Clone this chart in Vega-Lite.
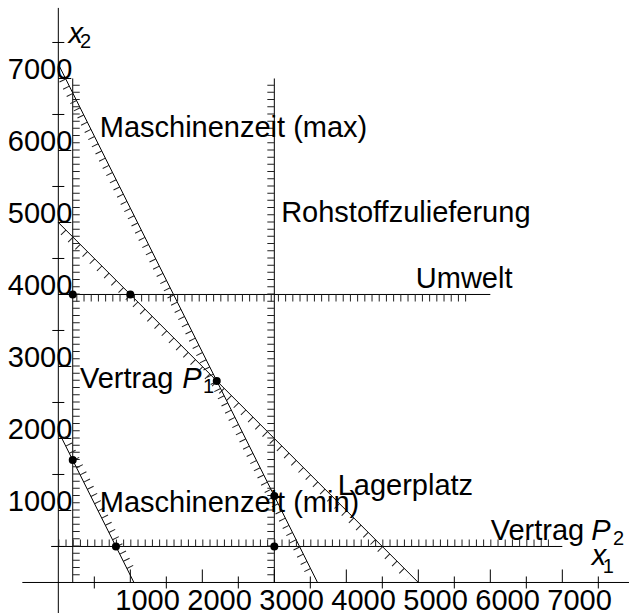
{
  "$schema": "https://vega.github.io/schema/vega-lite/v6.json",
  "width": 629,
  "height": 613,
  "padding": 0,
  "autosize": {"type": "none"},
  "background": "white",
  "config": {"view": {"stroke": null}},
  "datasets": {
    "axes": [
      {"x": -500, "y": 0, "x2": 7926, "y2": 0},
      {"x": 0, "y": -424, "x2": 0, "y2": 7980}
    ],
    "xmajor": [{"x": 1000, "y": 0}, {"x": 2000, "y": 0}, {"x": 3000, "y": 0}, {"x": 4000, "y": 0}, {"x": 5000, "y": 0}, {"x": 6000, "y": 0}, {"x": 7000, "y": 0}],
    "xminor": [{"x": 500, "y": 0}, {"x": 1500, "y": 0}, {"x": 2500, "y": 0}, {"x": 3500, "y": 0}, {"x": 4500, "y": 0}, {"x": 5500, "y": 0}, {"x": 6500, "y": 0}, {"x": 7500, "y": 0}],
    "ymajor": [{"x": 0, "y": 1000}, {"x": 0, "y": 2000}, {"x": 0, "y": 3000}, {"x": 0, "y": 4000}, {"x": 0, "y": 5000}, {"x": 0, "y": 6000}, {"x": 0, "y": 7000}],
    "yminor": [{"x": 0, "y": 500}, {"x": 0, "y": 1500}, {"x": 0, "y": 2500}, {"x": 0, "y": 3500}, {"x": 0, "y": 4500}, {"x": 0, "y": 5500}, {"x": 0, "y": 6500}, {"x": 0, "y": 7500}],
    "lines": [
      {"id": "Vertrag P1", "x": 200, "y": 0, "x2": 200, "y2": 7000},
      {"id": "Rohstoffzulieferung", "x": 3000, "y": 0, "x2": 3000, "y2": 7000},
      {"id": "Umwelt", "x": 0, "y": 4000, "x2": 6000, "y2": 4000},
      {"id": "Vertrag P2", "x": -100, "y": 500, "x2": 7000, "y2": 500},
      {"id": "Maschinenzeit (max)", "x": 0, "y": 7200, "x2": 3600, "y2": 0},
      {"id": "Lagerplatz", "x": 0, "y": 5000, "x2": 5000, "y2": 0},
      {"id": "Maschinenzeit (min)", "x": 0, "y": 2100, "x2": 1050, "y2": 0}
    ],
    "hatch": [
      {"id": "Vertrag P1", "x": 200, "y": 100, "x2": 200, "y2": 7000},
      {"id": "Rohstoffzulieferung", "x": 3000, "y": 100, "x2": 3000, "y2": 7000},
      {"id": "Umwelt", "x": 250, "y": 4000, "x2": 5750, "y2": 4000},
      {"id": "Vertrag P2", "x": 0, "y": 500, "x2": 6900, "y2": 500},
      {"id": "Maschinenzeit (max)", "x": 100, "y": 7000, "x2": 3550, "y2": 100},
      {"id": "Lagerplatz", "x": 100, "y": 4900, "x2": 4900, "y2": 100},
      {"id": "Maschinenzeit (min)", "x": 50, "y": 2000, "x2": 1000, "y2": 100}
    ],
    "points": [
      {"x": 200, "y": 4000},
      {"x": 1000, "y": 4000},
      {"x": 2200, "y": 2800},
      {"x": 200, "y": 1700},
      {"x": 800, "y": 500},
      {"x": 3000, "y": 500},
      {"x": 3000, "y": 1200}
    ],
    "labels": [
      {"t": "Maschinenzeit (max)", "x": 575, "y": 6190},
      {"t": "Rohstoffzulieferung", "x": 3095, "y": 5000},
      {"t": "Umwelt", "x": 4965, "y": 4085},
      {"t": "Vertrag", "x": 300, "y": 2700},
      {"t": "Maschinenzeit (min)", "x": 575, "y": 985},
      {"t": "Lagerplatz", "x": 3880, "y": 1215},
      {"t": "Vertrag", "x": 6005, "y": 590}
    ],
    "italic": [
      {"t": "P", "x": 1720, "y": 2700},
      {"t": "P", "x": 7403, "y": 590},
      {"t": "x", "x": 140, "y": 7490},
      {"t": "x", "x": 7408, "y": 243}
    ],
    "sub": [
      {"t": "1", "x": 2010, "y": 2630},
      {"t": "2", "x": 7704, "y": 521},
      {"t": "2", "x": 300, "y": 7420},
      {"t": "1", "x": 7560, "y": 128}
    ]
  },
  "encoding": {
    "x": {"field": "x", "type": "quantitative", "scale": {"domain": [-810, 7926], "nice": false, "zero": false}, "axis": null},
    "y": {"field": "y", "type": "quantitative", "scale": {"domain": [-424, 8090], "nice": false, "zero": false}, "axis": null}
  },
  "layer": [
    {
      "data": {"name": "axes"},
      "mark": {"type": "rule", "color": "black", "strokeWidth": 1},
      "encoding": {"x2": {"field": "x2"}, "y2": {"field": "y2"}}
    },
    {
      "data": {"name": "xmajor"},
      "mark": {"type": "rule", "color": "black", "strokeWidth": 1, "y2Offset": -13},
      "encoding": {"y2": {"field": "y"}}
    },
    {
      "data": {"name": "xminor"},
      "mark": {"type": "rule", "color": "black", "strokeWidth": 1, "yOffset": 6, "y2Offset": -6},
      "encoding": {"y2": {"field": "y"}}
    },
    {
      "data": {"name": "ymajor"},
      "mark": {"type": "rule", "color": "black", "strokeWidth": 1, "x2Offset": 13},
      "encoding": {"x2": {"field": "x"}}
    },
    {
      "data": {"name": "yminor"},
      "mark": {"type": "rule", "color": "black", "strokeWidth": 1, "xOffset": -6, "x2Offset": 6},
      "encoding": {"x2": {"field": "x"}}
    },
    {
      "data": {"name": "xmajor"},
      "mark": {"type": "text", "font": "Liberation Sans", "fontSize": 29, "color": "black", "align": "left", "baseline": "alphabetic", "dx": -15, "dy": 28},
      "encoding": {"text": {"field": "x", "type": "nominal"}}
    },
    {
      "data": {"name": "ymajor"},
      "mark": {"type": "text", "font": "Liberation Sans", "fontSize": 29, "color": "black", "align": "right", "baseline": "alphabetic", "dx": 14, "dy": 1},
      "encoding": {"text": {"field": "y", "type": "nominal"}}
    },
    {
      "data": {"name": "lines"},
      "mark": {"type": "rule", "color": "black", "strokeWidth": 1},
      "encoding": {"x2": {"field": "x2"}, "y2": {"field": "y2"}}
    },
    {
      "data": {"name": "hatch"},
      "transform": [{"filter": "datum.id == 'Vertrag P1'"}],
      "mark": {"type": "rule", "color": "#222", "strokeWidth": 7, "strokeDash": [1, 6.2], "strokeCap": "butt", "xOffset": 3.5, "x2Offset": 3.5},
      "encoding": {"x2": {"field": "x2"}, "y2": {"field": "y2"}}
    },
    {
      "data": {"name": "hatch"},
      "transform": [{"filter": "datum.id == 'Rohstoffzulieferung'"}],
      "mark": {"type": "rule", "color": "#222", "strokeWidth": 7, "strokeDash": [1, 6.2], "strokeCap": "butt", "xOffset": -3.5, "x2Offset": -3.5},
      "encoding": {"x2": {"field": "x2"}, "y2": {"field": "y2"}}
    },
    {
      "data": {"name": "hatch"},
      "transform": [{"filter": "datum.id == 'Umwelt'"}],
      "mark": {"type": "rule", "color": "#222", "strokeWidth": 7, "strokeDash": [1, 6.2], "strokeCap": "butt", "yOffset": 3.5, "y2Offset": 3.5},
      "encoding": {"x2": {"field": "x2"}, "y2": {"field": "y2"}}
    },
    {
      "data": {"name": "hatch"},
      "transform": [{"filter": "datum.id == 'Vertrag P2'"}],
      "mark": {"type": "rule", "color": "#222", "strokeWidth": 7, "strokeDash": [1, 6.2], "strokeCap": "butt", "yOffset": -3.5, "y2Offset": -3.5},
      "encoding": {"x2": {"field": "x2"}, "y2": {"field": "y2"}}
    },
    {
      "data": {"name": "hatch"},
      "transform": [{"filter": "datum.id == 'Maschinenzeit (max)'"}],
      "mark": {"type": "rule", "color": "#222", "strokeWidth": 7, "strokeDash": [1, 7.05], "strokeCap": "butt", "xOffset": -3.13, "x2Offset": -3.13, "yOffset": 1.57, "y2Offset": 1.57},
      "encoding": {"x2": {"field": "x2"}, "y2": {"field": "y2"}}
    },
    {
      "data": {"name": "hatch"},
      "transform": [{"filter": "datum.id == 'Lagerplatz'"}],
      "mark": {"type": "rule", "color": "#222", "strokeWidth": 7, "strokeDash": [1, 9.18], "strokeCap": "butt", "xOffset": -2.47, "x2Offset": -2.47, "yOffset": 2.47, "y2Offset": 2.47},
      "encoding": {"x2": {"field": "x2"}, "y2": {"field": "y2"}}
    },
    {
      "data": {"name": "hatch"},
      "transform": [{"filter": "datum.id == 'Maschinenzeit (min)'"}],
      "mark": {"type": "rule", "color": "#222", "strokeWidth": 7, "strokeDash": [1, 7.05], "strokeCap": "butt", "xOffset": 3.13, "x2Offset": 3.13, "yOffset": -1.57, "y2Offset": -1.57},
      "encoding": {"x2": {"field": "x2"}, "y2": {"field": "y2"}}
    },
    {
      "data": {"name": "points"},
      "mark": {"type": "circle", "size": 64, "color": "black", "opacity": 1}
    },
    {
      "data": {"name": "labels"},
      "mark": {"type": "text", "font": "Liberation Sans", "fontSize": 29, "color": "black", "align": "left", "baseline": "alphabetic"},
      "encoding": {"text": {"field": "t"}}
    },
    {
      "data": {"name": "italic"},
      "mark": {"type": "text", "font": "Liberation Sans", "fontSize": 29, "fontStyle": "italic", "color": "black", "align": "left", "baseline": "alphabetic"},
      "encoding": {"text": {"field": "t"}}
    },
    {
      "data": {"name": "sub"},
      "mark": {"type": "text", "font": "Liberation Sans", "fontSize": 20, "color": "black", "align": "left", "baseline": "alphabetic"},
      "encoding": {"text": {"field": "t"}}
    }
  ]
}
